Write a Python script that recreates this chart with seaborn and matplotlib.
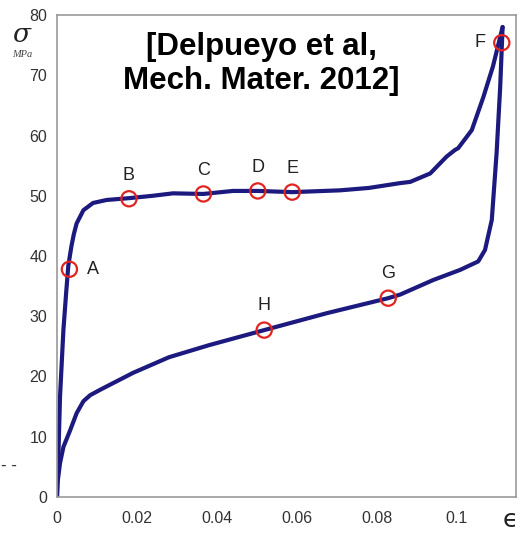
import matplotlib
matplotlib.use("Agg")
import matplotlib.pyplot as plt
import seaborn as sns
import pandas as pd

# ---- data ----
loading_eps = [0, 0.0003, 0.00075, 0.0016, 0.0023, 0.00283, 0.0036, 0.0042, 0.0049, 0.0066,
               0.009, 0.0124, 0.018, 0.024, 0.029, 0.0366, 0.044, 0.0502, 0.0588, 0.0708,
               0.078, 0.0858, 0.0883, 0.0933, 0.0974, 0.0995, 0.1003, 0.1037, 0.1066,
               0.109, 0.1114]
loading_sig = [0, 5.6, 16.6, 27.7, 34.0, 38.4, 41.6, 43.6, 45.4, 47.6,
               48.8, 49.3, 49.6, 50.0, 50.4, 50.3, 50.8, 50.8, 50.6, 50.9,
               51.3, 52.1, 52.3, 53.7, 56.5, 57.6, 57.9, 60.9, 66.4,
               71.5, 78.0]

unloading_eps = [0.1114, 0.1108, 0.1099, 0.1087, 0.107, 0.1053, 0.1008, 0.094, 0.0858,
                 0.0828, 0.0674, 0.0518, 0.038, 0.028, 0.019, 0.0108, 0.0083, 0.0066,
                 0.0049, 0.0033, 0.0016, 0.00075, 0.0001, 0]
unloading_sig = [78.0, 68.1, 57.1, 46.0, 41.0, 39.1, 37.7, 36.0, 33.6,
                 33.0, 30.5, 27.7, 25.2, 23.2, 20.6, 17.8, 16.9, 15.9,
                 13.9, 11.1, 8.3, 5.6, 2.2, 0]

point_labels = ["A", "B", "C", "D", "E", "F", "G", "H"]
point_eps = [0.0031, 0.018, 0.0366, 0.0502, 0.0588, 0.1112, 0.0828, 0.0518]
point_sig = [37.8, 49.5, 50.3, 50.8, 50.6, 75.4, 33.0, 27.7]

x_ticks = [0, 0.02, 0.04, 0.06, 0.08, 0.1]
x_tick_labels = ["0", "0.02", "0.04", "0.06", "0.08", "0.1"]
y_ticks = [0, 10, 20, 30, 40, 50, 60, 70, 80]

# ---- build table ----
curve = pd.DataFrame({
    "eps": loading_eps + unloading_eps,
    "sig": loading_sig + unloading_sig,
    "branch": ["load"] * len(loading_eps) + ["unload"] * len(unloading_eps),
})
pts = pd.DataFrame({"eps": point_eps, "sig": point_sig, "label": point_labels})

sns.set_style("white")
tick_font = ["Liberation Sans Narrow", "Liberation Sans", "DejaVu Sans"]

fig = plt.figure(figsize=(5.22, 5.38), dpi=100)
ax = fig.add_axes([57 / 522, 1 - 497 / 538, 459 / 522, 482 / 538])

navy = "#1c1a7e"
sns.lineplot(data=curve[curve.branch == "load"], x="eps", y="sig", sort=False,
             color=navy, linewidth=3, ax=ax, estimator=None)
sns.lineplot(data=curve[curve.branch == "unload"], x="eps", y="sig", sort=False,
             color=navy, linewidth=3, ax=ax, estimator=None)
sns.scatterplot(data=pts, x="eps", y="sig", s=120, facecolor="none",
                edgecolor="#e0241f", linewidth=1.6, ax=ax, zorder=5)

offsets = {"A": (13, 0), "B": (0, 17), "C": (0, 17), "D": (0, 17), "E": (0, 17),
           "F": (-12, 0), "G": (0, 18), "H": (0, 18)}
for lab, e, s in zip(point_labels, point_eps, point_sig):
    dx, dy = offsets[lab]
    ha = "left" if dx > 0 else ("right" if dx < 0 else "center")
    ax.annotate(lab, (e, s), xytext=(dx, dy), textcoords="offset points",
                ha=ha, va="center", fontsize=13, color="#222222",
                family=["Liberation Sans", "DejaVu Sans"])

ax.set_xlim(0, 0.11475)
ax.set_ylim(0, 80)
ax.set_xticks(x_ticks)
ax.set_xticklabels(x_tick_labels)
ax.set_yticks(y_ticks)
ax.set_xlabel("")
ax.set_ylabel("")
for lab in ax.get_xticklabels() + ax.get_yticklabels():
    lab.set_family(tick_font)
    lab.set_fontsize(11.5)
    lab.set_color("#333333")
ax.tick_params(axis="x", direction="in", length=4, width=1, color="#888888", pad=10)
ax.tick_params(axis="y", length=0, pad=7)
for sp in ax.spines.values():
    sp.set_color("#999999")
    sp.set_linewidth(1.2)

ax.text((261 - 57) / 459, (497 - 64) / 482, "[Delpueyo et al,\nMech. Mater. 2012]",
        transform=ax.transAxes, ha="center", va="center", fontsize=22.5,
        fontweight="bold", color="black",
        family=["Liberation Sans", "DejaVu Sans"], linespacing=1.15)

fig.text(21 / 522, 1 - 35 / 538, "σ", fontsize=19, style="italic",
         family=["DejaVu Serif"], ha="center", va="center", color="#222222")
fig.text(22 / 522, 1 - 55 / 538, "MPa", fontsize=7.5, style="italic",
         family=["Liberation Serif", "DejaVu Serif"], ha="center", va="center",
         color="#444444")
fig.text(510 / 522, 1 - 520 / 538, "ϵ", fontsize=18, family=["DejaVu Sans"],
         ha="center", va="center", color="#222222")
fig.text(9 / 522, 1 - 466 / 538, "- -", fontsize=11, ha="center", va="center",
         color="#333333")

fig.savefig("out.png", dpi=100)
